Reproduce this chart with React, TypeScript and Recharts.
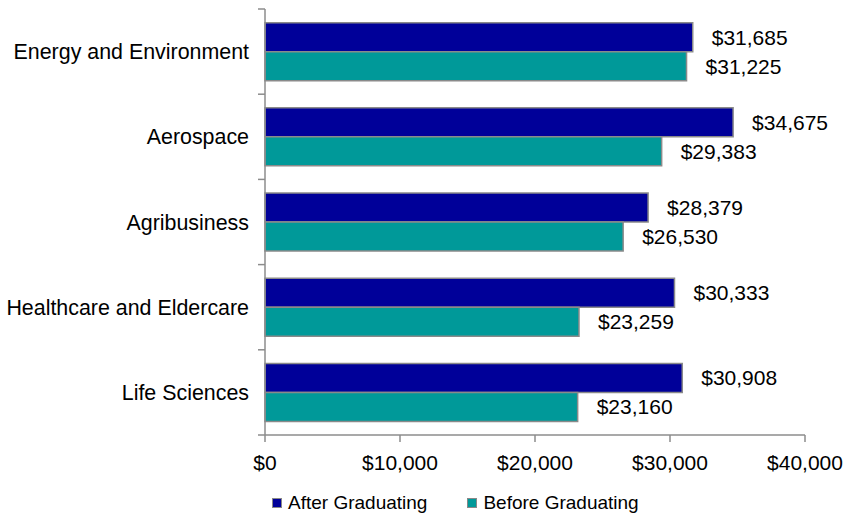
import { Bar, BarChart, LabelList, Legend, XAxis, YAxis } from "recharts";

const industries = [
  "Energy and Environment",
  "Aerospace",
  "Agribusiness",
  "Healthcare and Eldercare",
  "Life Sciences",
];
const afterGraduating = [31685, 34675, 28379, 30333, 30908];
const beforeGraduating = [31225, 29383, 26530, 23259, 23160];
const salaryTicks = [0, 10000, 20000, 30000, 40000];

const series = [
  { key: "after", name: "After Graduating", color: "#000099" },
  { key: "before", name: "Before Graduating", color: "#009999" },
];

const data = industries.map((name, i) => ({
  name,
  after: afterGraduating[i],
  before: beforeGraduating[i],
}));

const money = (v: number) => "$" + Number(v).toLocaleString("en-US");

const FONT = "'Liberation Sans', Arial, sans-serif";
const AXIS = "#8c8c8c";
const TICK_SIZE = 6;
const TICK_GAP = 10;

// category label plus Excel-style tick marks on the band edges
const CategoryTick = (props: any) => {
  const { x, y, payload, index, visibleTicksCount } = props;
  const half = payload?.offset ?? 0;
  const axisX = x + TICK_SIZE + TICK_GAP;
  const last = index === visibleTicksCount - 1;
  return (
    <g>
      <line x1={axisX - 7} x2={axisX} y1={y - half} y2={y - half} stroke={AXIS} strokeWidth={1.5} />
      {last && (
        <line x1={axisX - 7} x2={axisX} y1={y + half} y2={y + half} stroke={AXIS} strokeWidth={1.5} />
      )}
      <text x={x} y={y} dy="0.355em" textAnchor="end" fill="#000" fontSize={21.4}>
        {payload.value}
      </text>
    </g>
  );
};

const LegendBox = () => (
  <div
    style={{
      display: "flex",
      paddingLeft: 272,
      fontFamily: FONT,
      fontSize: 19,
      color: "#000",
      alignItems: "center",
    }}
  >
    {series.map((s) => (
      <div key={s.key} style={{ display: "flex", alignItems: "center", marginRight: 40 }}>
        <span
          style={{
            width: 8,
            height: 8,
            background: s.color,
            border: "1px solid #888",
            marginRight: 6,
            display: "inline-block",
          }}
        />
        <span>{s.name}</span>
      </div>
    ))}
  </div>
);

const App = () => {
  return (
    <div style={{ position: "absolute", left: 0, top: 0, background: "#fff" }}>
      <BarChart
        width={845}
        height={522}
        data={data}
        layout="vertical"
        margin={{ top: 9, right: 40, bottom: 0, left: 0 }}
        barCategoryGap="16%"
        barGap={0}
        style={{ fontFamily: FONT }}
      >
        <XAxis
          type="number"
          domain={[0, 40000]}
          ticks={salaryTicks}
          tickFormatter={money}
          height={57}
          tickSize={7}
          tickMargin={13}
          stroke={AXIS}
          strokeWidth={1.5}
          tick={{ fill: "#000", fontSize: 21 }}
        />
        <YAxis
          type="category"
          dataKey="name"
          width={265}
          tickLine={false}
          tickSize={TICK_SIZE}
          tickMargin={TICK_GAP}
          stroke={AXIS}
          strokeWidth={1.5}
          tick={<CategoryTick />}
        />
        <Legend verticalAlign="bottom" height={30} content={<LegendBox />} />
        {series.map((s) => (
          <Bar
            key={s.key}
            dataKey={s.key}
            name={s.name}
            fill={s.color}
            stroke="#8a8a8a"
            strokeWidth={1.5}
            isAnimationActive={false}
          >
            <LabelList
              dataKey={s.key}
              position="right"
              offset={19}
              formatter={(v: any) => money(v)}
              fill="#000"
              fontSize={21}
            />
          </Bar>
        ))}
      </BarChart>
    </div>
  );
};

export default App;
